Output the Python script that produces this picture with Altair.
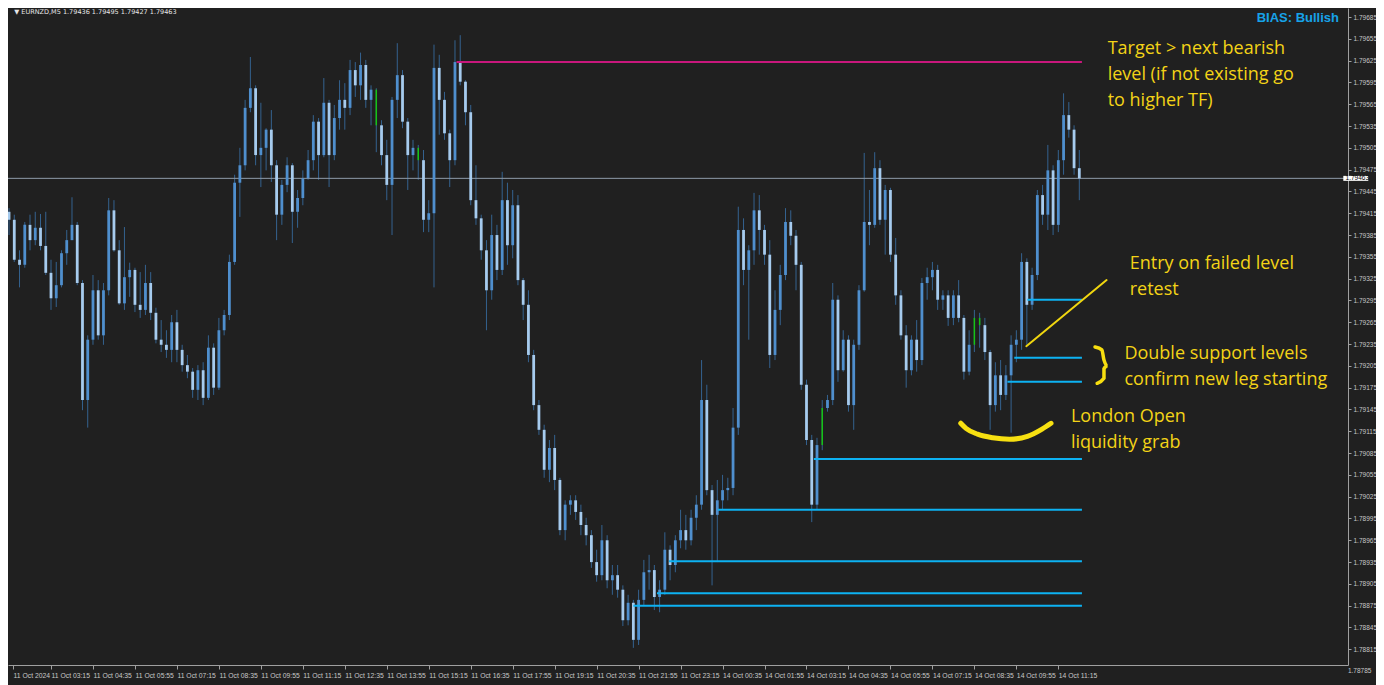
import json
import numpy as np
import pandas as pd
import altair as alt

# ---------------- data ----------------
header_text = "\u25bc EURNZD,M5  1.79436 1.79495 1.79427 1.79463"
bias_text = "BIAS: Bullish"

first_open = 1.79417
close = [
    1.79406, 1.79351, 1.79344, 1.79399, 1.79378, 1.79395, 1.79370, 1.79333, 1.79298, 1.79316,
    1.79360, 1.79378, 1.79399, 1.79319, 1.79158, 1.79241, 1.79309, 1.79247, 1.79309, 1.79419,
    1.79364, 1.79291, 1.79327, 1.79337, 1.79289, 1.79282, 1.79319, 1.79278, 1.79241, 1.79234,
    1.79227, 1.79265, 1.79227, 1.79206, 1.79197, 1.79172, 1.79199, 1.79161, 1.79230, 1.79175,
    1.79254, 1.79275, 1.79348, 1.79457, 1.79481, 1.79560, 1.79587, 1.79495, 1.79505, 1.79530,
    1.79481, 1.79413, 1.79454, 1.79481, 1.79417, 1.79436, 1.79463, 1.79488, 1.79541, 1.79495,
    1.79567, 1.79495, 1.79546, 1.79571, 1.79560, 1.79612, 1.79591, 1.79619, 1.79571, 1.79585,
    1.79536, 1.79495, 1.79454, 1.79571, 1.79605, 1.79541, 1.79495, 1.79505, 1.79488, 1.79406,
    1.79415, 1.79615, 1.79571, 1.79525, 1.79488, 1.79623, 1.79596, 1.79554, 1.79433, 1.79408,
    1.79364, 1.79309, 1.79385, 1.79337, 1.79433, 1.79371, 1.79426, 1.79323, 1.79289, 1.79220,
    1.79151, 1.79117, 1.79062, 1.79092, 1.79048, 1.78979, 1.79014, 1.79020, 1.79004, 1.78986,
    1.78972, 1.78935, 1.78917, 1.78965, 1.78910, 1.78917, 1.78897, 1.78855, 1.78879, 1.78828,
    1.78883, 1.78921, 1.78924, 1.78887, 1.78897, 1.78952, 1.78931, 1.78965, 1.78979, 1.78965,
    1.78996, 1.79014, 1.79158, 1.79034, 1.79000, 1.79020, 1.79034, 1.79037, 1.79120, 1.79392,
    1.79337, 1.79364, 1.79419, 1.79392, 1.79358, 1.79220, 1.79282, 1.79330, 1.79403, 1.79384,
    1.79344, 1.79179, 1.79103, 1.79014, 1.79096, 1.79147, 1.79158, 1.79296, 1.79199, 1.79241,
    1.79151, 1.79234, 1.79309, 1.79403, 1.79399, 1.79477, 1.79406, 1.79447, 1.79358, 1.79302,
    1.79247, 1.79199, 1.79241, 1.79213, 1.79319, 1.79327, 1.79337, 1.79296, 1.79302, 1.79271,
    1.79302, 1.79271, 1.79197, 1.79234, 1.79271, 1.79261, 1.79224, 1.79151, 1.79192, 1.79165,
    1.79192, 1.79234, 1.79241, 1.79348, 1.79289, 1.79330, 1.79440, 1.79413, 1.79474, 1.79399,
    1.79488, 1.79550, 1.79530, 1.79477, 1.79463,
]
high = [
    1.79422, 1.79413, 1.79364, 1.79403, 1.79413, 1.79417, 1.79414, 1.79417, 1.79351, 1.79348,
    1.79364, 1.79392, 1.79437, 1.79403, 1.79323, 1.79247, 1.79330, 1.79323, 1.79319, 1.79436,
    1.79433, 1.79378, 1.79396, 1.79347, 1.79340, 1.79334, 1.79344, 1.79334, 1.79285, 1.79268,
    1.79254, 1.79275, 1.79282, 1.79234, 1.79220, 1.79202, 1.79206, 1.79210, 1.79247, 1.79236,
    1.79271, 1.79282, 1.79358, 1.79468, 1.79505, 1.79571, 1.79630, 1.79591, 1.79567, 1.79532,
    1.79557, 1.79488, 1.79461, 1.79492, 1.79484, 1.79447, 1.79474, 1.79502, 1.79550, 1.79546,
    1.79601, 1.79571, 1.79564, 1.79598, 1.79594, 1.79626, 1.79623, 1.79636, 1.79626, 1.79591,
    1.79587, 1.79543, 1.79516, 1.79575, 1.79649, 1.79612, 1.79546, 1.79516, 1.79509, 1.79502,
    1.79433, 1.79647, 1.79633, 1.79582, 1.79530, 1.79653, 1.79660, 1.79598, 1.79564, 1.79481,
    1.79413, 1.79378, 1.79413, 1.79399, 1.79472, 1.79457, 1.79447, 1.79440, 1.79326, 1.79309,
    1.79227, 1.79158, 1.79124, 1.79103, 1.79110, 1.79051, 1.79020, 1.79027, 1.79027, 1.79014,
    1.78996, 1.78979, 1.78952, 1.78986, 1.78972, 1.78931, 1.78931, 1.78903, 1.78890, 1.78883,
    1.78897, 1.78938, 1.78945, 1.78931, 1.78910, 1.78976, 1.78958, 1.78972, 1.79007, 1.79000,
    1.79007, 1.79027, 1.79213, 1.79179, 1.79041, 1.79048, 1.79055, 1.79051, 1.79147, 1.79424,
    1.79408, 1.79371, 1.79443, 1.79440, 1.79399, 1.79378, 1.79309, 1.79344, 1.79422, 1.79419,
    1.79392, 1.79348, 1.79186, 1.79110, 1.79106, 1.79158, 1.79165, 1.79319, 1.79302, 1.79254,
    1.79247, 1.79241, 1.79316, 1.79498, 1.79447, 1.79499, 1.79488, 1.79454, 1.79450, 1.79381,
    1.79309, 1.79261, 1.79247, 1.79268, 1.79326, 1.79340, 1.79348, 1.79344, 1.79309, 1.79309,
    1.79309, 1.79323, 1.79275, 1.79254, 1.79282, 1.79278, 1.79271, 1.79227, 1.79210, 1.79213,
    1.79206, 1.79247, 1.79254, 1.79360, 1.79353, 1.79340, 1.79447, 1.79454, 1.79509, 1.79481,
    1.79502, 1.79580, 1.79568, 1.79536, 1.79502,
]
low = [
    1.79385, 1.79348, 1.79313, 1.79340, 1.79364, 1.79371, 1.79364, 1.79330, 1.79282, 1.79286,
    1.79313, 1.79344, 1.79378, 1.79316, 1.79144, 1.79120, 1.79234, 1.79241, 1.79234, 1.79302,
    1.79362, 1.79289, 1.79282, 1.79300, 1.79279, 1.79271, 1.79275, 1.79268, 1.79236, 1.79224,
    1.79216, 1.79210, 1.79210, 1.79197, 1.79188, 1.79161, 1.79158, 1.79151, 1.79158, 1.79165,
    1.79172, 1.79247, 1.79268, 1.79344, 1.79410, 1.79474, 1.79554, 1.79481, 1.79451, 1.79474,
    1.79458, 1.79378, 1.79399, 1.79444, 1.79374, 1.79395, 1.79426, 1.79461, 1.79474, 1.79461,
    1.79492, 1.79451, 1.79488, 1.79530, 1.79530, 1.79550, 1.79575, 1.79571, 1.79560, 1.79536,
    1.79499, 1.79481, 1.79433, 1.79385, 1.79546, 1.79532, 1.79447, 1.79474, 1.79461, 1.79389,
    1.79389, 1.79313, 1.79523, 1.79516, 1.79451, 1.79481, 1.79591, 1.79536, 1.79426, 1.79399,
    1.79351, 1.79254, 1.79296, 1.79323, 1.79330, 1.79344, 1.79353, 1.79316, 1.79268, 1.79210,
    1.79144, 1.79110, 1.79051, 1.79045, 1.79034, 1.78972, 1.78965, 1.79000, 1.78993, 1.78972,
    1.78958, 1.78927, 1.78908, 1.78910, 1.78899, 1.78890, 1.78886, 1.78847, 1.78848, 1.78817,
    1.78821, 1.78876, 1.78897, 1.78869, 1.78866, 1.78890, 1.78910, 1.78921, 1.78954, 1.78952,
    1.78958, 1.78979, 1.79007, 1.79027, 1.78903, 1.78935, 1.79007, 1.79020, 1.79027, 1.79110,
    1.79316, 1.79241, 1.79344, 1.79358, 1.79344, 1.79202, 1.79213, 1.79261, 1.79323, 1.79371,
    1.79309, 1.79172, 1.79096, 1.78990, 1.79007, 1.79089, 1.79142, 1.79151, 1.79183, 1.79197,
    1.79142, 1.79117, 1.79227, 1.79307, 1.79371, 1.79395, 1.79399, 1.79358, 1.79348, 1.79289,
    1.79241, 1.79175, 1.79192, 1.79197, 1.79206, 1.79296, 1.79309, 1.79282, 1.79282, 1.79260,
    1.79261, 1.79265, 1.79186, 1.79192, 1.79224, 1.79230, 1.79213, 1.79117, 1.79142, 1.79144,
    1.79158, 1.79113, 1.79210, 1.79227, 1.79234, 1.79282, 1.79323, 1.79399, 1.79392, 1.79385,
    1.79389, 1.79468, 1.79519, 1.79468, 1.79433,
]
green_bars = [70, 78, 155, 184, 185]

time_labels = [
    "11 Oct 2024", "11 Oct 03:15", "11 Oct 04:35", "11 Oct 05:55", "11 Oct 07:15",
    "11 Oct 08:35", "11 Oct 09:55", "11 Oct 11:15", "11 Oct 12:35", "11 Oct 13:55",
    "11 Oct 15:15", "11 Oct 16:35", "11 Oct 17:55", "11 Oct 19:15", "11 Oct 20:35",
    "11 Oct 21:55", "11 Oct 23:15", "14 Oct 00:35", "14 Oct 01:55", "14 Oct 03:15",
    "14 Oct 04:35", "14 Oct 05:55", "14 Oct 07:15", "14 Oct 08:35", "14 Oct 09:55",
    "14 Oct 11:15",
]
time_tick_bars = [0.76, 8, 16, 24, 32, 40, 48, 56, 64, 72, 80, 88, 96, 104, 112, 120,
                  128, 136, 144, 152, 160, 168, 176, 184, 192, 200]
y_ticks = [1.79685, 1.79655, 1.79625, 1.79595, 1.79565, 1.79535, 1.79505, 1.79475,
           1.79445, 1.79415, 1.79385, 1.79355, 1.79325, 1.79295, 1.79265, 1.79235,
           1.79205, 1.79175, 1.79145, 1.79115, 1.79085, 1.79055, 1.79025, 1.78995,
           1.78965, 1.78935, 1.78905, 1.78875, 1.78845, 1.78815, 1.78785]

current_price = 1.79463
current_label = "1.79463"

target_start = [85.3]
target_price = [1.79623]
support_start = [194.1, 191.6, 190.3, 153.4, 135.1, 125.8, 123.5, 119.0]
support_price = [1.79296, 1.79216, 1.79183, 1.79077, 1.79007, 1.78936, 1.78892, 1.78875]
level_end = 204.5

note_lines = ["Target > next bearish", "level (if not existing go", "to higher TF)",
              "Entry on failed level", "retest",
              "Double support levels", "confirm new leg starting",
              "London Open", "liquidity grab"]
note_x = [209.4, 209.4, 209.4, 213.6, 213.6, 212.6, 212.6, 202.4, 202.4]
note_y = [1.79641, 1.79605, 1.79569, 1.79345, 1.79309, 1.79221, 1.79185, 1.79134, 1.79099]

entry_x = [193.9, 209.2]
entry_y = [1.79232, 1.79323]
brace_x = [207.0, 208.3, 208.7, 209.4, 208.7, 208.7, 207.4]
brace_y = [1.79231, 1.79227, 1.79213, 1.79205, 1.79201, 1.79188, 1.79181]
smile_x = [181.4, 182.4, 184.6, 187.5, 190.7, 194.1, 196.9, 198.6]
smile_y = [1.79126, 1.79119, 1.79111, 1.79106, 1.79104, 1.79108, 1.79118, 1.79126]

# ---------------- tables ----------------
n = len(close)
opens = [first_open] + close[:-1]
df = pd.DataFrame({"i": np.arange(n), "open": opens, "high": high, "low": low, "close": close})
df["hi"] = df[["high", "open", "close"]].max(axis=1)
df["lo"] = df[["low", "open", "close"]].min(axis=1)
df["top"] = df[["open", "close"]].max(axis=1)
df["bot"] = df[["open", "close"]].min(axis=1)
df["green"] = df["i"].isin(green_bars)
df["dir"] = np.where(df["close"] >= df["open"], "up", "down")
normal = df[~df["green"]]
greens = df[df["green"]]

supports = pd.DataFrame({"start": support_start, "end": [level_end] * len(support_start),
                         "price": support_price})
target = pd.DataFrame({"start": target_start, "end": [level_end], "price": target_price})
notes = pd.DataFrame({"t": note_lines, "x": note_x, "y": note_y})
entry = pd.DataFrame({"x": entry_x, "y": entry_y, "o": range(len(entry_x))})
brace = pd.DataFrame({"x": brace_x, "y": brace_y, "o": range(len(brace_x))})
smile = pd.DataFrame({"x": smile_x, "y": smile_y, "o": range(len(smile_x))})

# ---------------- scales / axes ----------------
x_lo, x_hi = 0.757, 254.26
y_lo, y_hi = 1.787934, 1.796974
xs = alt.Scale(domain=[x_lo, x_hi], nice=False, zero=False)
ys = alt.Scale(domain=[y_lo, y_hi], nice=False, zero=False)
axis_ticks = [v for v in y_ticks if y_lo <= v <= y_hi]
outside = [v for v in y_ticks if not (y_lo <= v <= y_hi)]
extra_ticks = pd.DataFrame({"t": [f"{v:.5f}" for v in outside], "y": outside,
                            "x": [255.2] * len(outside)})

AX_COL = "#a0a0a0"
LAB_COL = "#c8c8c8"
x_axis = alt.Axis(values=time_tick_bars,
                  labelExpr=json.dumps(time_labels) + "[round(datum.value / 8)]",
                  labelAlign="left", labelBaseline="top", labelPadding=3,
                  labelFont="Liberation Sans", labelFontSize=6.8, labelColor=LAB_COL,
                  tickColor=AX_COL, tickSize=4, domainColor=AX_COL,
                  grid=False, title=None, labelOverlap=False, labelFlush=False)
y_axis = alt.Axis(orient="right", values=axis_ticks, format=".5f",
                  labelFont="Liberation Sans", labelFontSize=6.5, labelColor=LAB_COL,
                  labelPadding=2, tickColor=AX_COL, tickSize=3, domainColor=AX_COL,
                  grid=False, title=None, labelOverlap=False, labelFlush=False)


def X0(f):
    return alt.X(f, scale=xs, axis=x_axis)


def Y0(f):
    return alt.Y(f, scale=ys, axis=y_axis)


wicks = alt.Chart(df).mark_rule(strokeWidth=1, color="#34628f").encode(
    x=X0("i:Q"), y=Y0("lo:Q"), y2="hi:Q")
bodies = alt.Chart(normal).mark_bar(size=2.8).encode(
    x=X0("i:Q"), y=Y0("top:Q"), y2="bot:Q",
    color=alt.Color("dir:N", scale=alt.Scale(domain=["up", "down"],
                                             range=["#4f8fce", "#a6cbee"]), legend=None),
)
green_marks = alt.Chart(greens).mark_bar(size=1.5, color="#16c416").encode(
    x=X0("i:Q"), y=Y0("top:Q"), y2="bot:Q")

price_line = alt.Chart(pd.DataFrame({"p": [current_price]})).mark_rule(
    color="#8d9aa8", strokeWidth=1).encode(y=Y0("p:Q"))

support_rules = alt.Chart(supports).mark_rule(strokeWidth=2, color="#0db2f2").encode(
    x=X0("start:Q"), x2="end:Q", y=Y0("price:Q"))
target_rule = alt.Chart(target).mark_rule(strokeWidth=2, color="#c8177c").encode(
    x=X0("start:Q"), x2="end:Q", y=Y0("price:Q"))

note_text = alt.Chart(notes).mark_text(
    align="left", baseline="middle", font="Open Sans", fontSize=18, color="#f3d317"
).encode(x=X0("x:Q"), y=Y0("y:Q"), text="t:N")


def stroke(frame, width, col):
    return alt.Chart(frame).mark_line(strokeWidth=width, color=col, strokeCap="round",
                                      interpolate="monotone").encode(
        x=X0("x:Q"), y=Y0("y:Q"), order="o:Q")


entry_line = stroke(entry, 2, "#f0d60f")
brace_line = stroke(brace, 3.5, "#f7de10")
smile_line = stroke(smile, 5, "#f7e011")

header = alt.Chart(pd.DataFrame({"t": [header_text], "x": [1.0], "y": [1.79692]})).mark_text(
    align="left", baseline="middle", font="DejaVu Sans", fontSize=6.5, color="#e6e6e6"
).encode(x=X0("x:Q"), y=Y0("y:Q"), text="t:N")

bias = alt.Chart(pd.DataFrame({"t": [bias_text], "x": [237.8], "y": [1.79684]})).mark_text(
    align="left", baseline="middle", font="Liberation Sans", fontSize=13, fontWeight="bold",
    color="#17a3e9"
).encode(x=X0("x:Q"), y=Y0("y:Q"), text="t:N")

price_box = alt.Chart(pd.DataFrame({"x": [256.7], "y": [current_price]})).mark_point(
    shape="M-1,-0.2L1,-0.2L1,0.2L-1,0.2Z", size=625, filled=True, color="#ffffff", opacity=1
).encode(x=X0("x:Q"), y=Y0("y:Q"))
price_text = alt.Chart(pd.DataFrame({"t": [current_label], "x": [254.75], "y": [current_price]})).mark_text(
    align="left", baseline="middle", font="Liberation Sans", fontSize=6.5, color="#000000"
).encode(x=X0("x:Q"), y=Y0("y:Q"), text="t:N")

extra_labels = alt.Chart(extra_ticks).mark_text(
    align="left", baseline="middle", font="Liberation Sans", fontSize=6.5, color=LAB_COL
).encode(x=X0("x:Q"), y=Y0("y:Q"), text="t:N")

chart = alt.layer(
    wicks, price_line, bodies, green_marks, support_rules, target_rule,
    entry_line, brace_line, smile_line,
    note_text, header, bias, price_box, price_text, extra_labels,
).properties(
    width=1340, height=657, background="#202020",
    padding={"left": 0, "top": 0, "right": 28, "bottom": 20},
    autosize=alt.AutoSizeParams(type="none"),
).configure_view(stroke=None)

chart.save("out.html", embed_options={"renderer": "svg", "actions": False})
